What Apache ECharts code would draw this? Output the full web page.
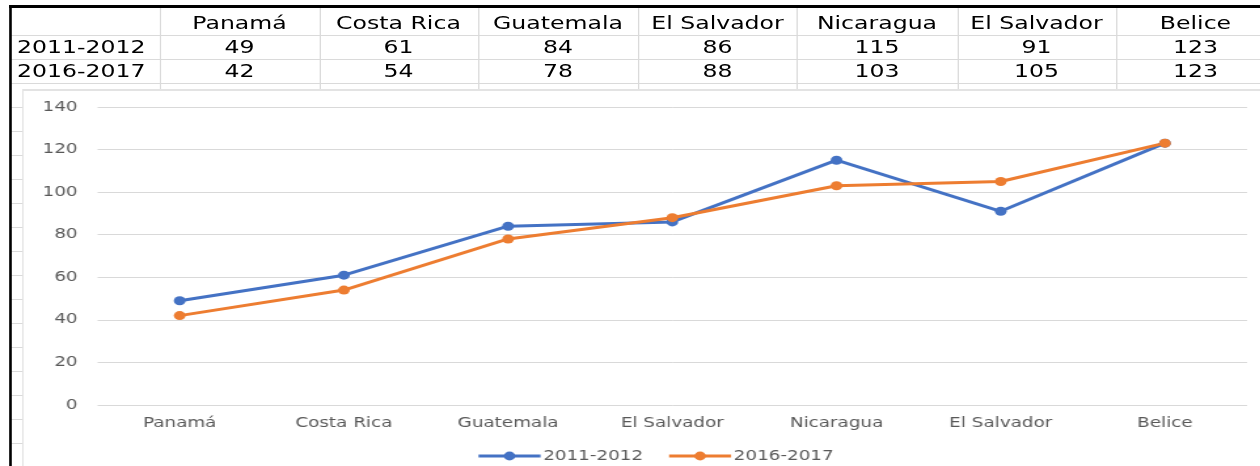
<!DOCTYPE html>
<html>
<head>
<meta charset="utf-8">
<script src="https://cdn.jsdelivr.net/npm/echarts@6/dist/echarts.min.js"></script>
<style>
  html, body { margin:0; padding:0; width:1260px; height:466px; overflow:hidden; background:#fff; }
  #wrap { position:absolute; left:0; top:0; width:960px; height:466px; transform-origin:0 0; font-family:"DejaVu Sans", sans-serif; }
  .abs { position:absolute; }
  .cell { position:absolute; font-size:18px; color:#000; white-space:nowrap; line-height:24px; height:24px; }
</style>
</head>
<body>
<div id="wrap"></div>
<script>
// ---- data ----
const categories = ["Panamá", "Costa Rica", "Guatemala", "El Salvador", "Nicaragua", "El Salvador", "Belice"];
const seriesNames = ["2011-2012", "2016-2017"];
const values2011 = [49, 61, 84, 86, 115, 91, 123];
const values2016 = [42, 54, 78, 88, 103, 105, 123];
const yTicks = { min: 0, max: 140, interval: 20 };

// ---- layout (page pixels, horizontally stretched like the reference) ----
const S = 1.31;
const u = x => x / S;
const wrap = document.getElementById('wrap');
wrap.style.transform = 'scaleX(' + S + ')';

function box(x, y, w, h, color) {
  const d = document.createElement('div');
  d.className = 'abs';
  d.style.left = u(x) + 'px'; d.style.top = y + 'px';
  d.style.width = u(w) + 'px'; d.style.height = h + 'px';
  d.style.background = color;
  wrap.appendChild(d);
  return d;
}
function text(str, x, yc, align) {
  const d = document.createElement('div');
  d.className = 'cell';
  d.textContent = str;
  d.style.top = (yc - 12) + 'px';
  if (align === 'left') { d.style.left = u(x) + 'px'; }
  else { d.style.left = (u(x) - 200) + 'px'; d.style.width = '400px'; d.style.textAlign = 'center'; }
  wrap.appendChild(d);
}

// sheet grid lines
const gridCol = '#dadada';
[35, 59, 83].forEach(y => box(11, y, 1260, 1, gridCol));
for (let y = 107; y < 466; y += 24) box(11, y, 20, 1, gridCol);
const colB = [11, 160, 319, 478, 638, 797, 957, 1116, 1275];
for (let i = 1; i < colB.length - 1; i++) box(colB[i], 8, 1.3, 82, gridCol);

// thick borders
box(9, 5, 1260, 3, '#000');
box(9, 5, 3, 470, '#000');

// table text
const rowY = [23, 47, 71];
categories.forEach((c, i) => text(c, (colB[i + 1] + colB[i + 2]) / 2, rowY[0]));
[values2011, values2016].forEach((vals, r) => {
  text(seriesNames[r], 17, rowY[r + 1], 'left');
  vals.forEach((v, i) => text(String(v), (colB[i + 1] + colB[i + 2]) / 2, rowY[r + 1]));
});

// chart frame
const frame = box(22, 89, 1300, 400, '#e3e3e3');
const inner = document.createElement('div');
inner.className = 'abs';
inner.style.left = u(1.5) + 'px'; inner.style.top = '1.5px';
inner.style.width = u(1298) + 'px'; inner.style.height = '398px';
inner.style.background = '#fff';
frame.appendChild(inner);
const chartDiv = document.createElement('div');
chartDiv.className = 'abs';
chartDiv.style.left = '0px'; chartDiv.style.top = '0px';
chartDiv.style.width = u(1290 - 24) + 'px'; chartDiv.style.height = '400px';
inner.appendChild(chartDiv);

const chart = echarts.init(chartDiv, null, { renderer: 'canvas' });
const labelColor = '#595959';
const font = '"DejaVu Sans", sans-serif';
chart.setOption({
  animation: false,
  textStyle: { fontFamily: font },
  grid: { left: u(98 - 24), right: u(1290 - 1248), top: 107 - 91, bottom: 400 - (405 - 91) },
  legend: {
    left: u(477 - 24), top: 358, padding: 0,
    itemWidth: u(62), itemHeight: 11, itemGap: u(24),
    lineStyle: { width: 3 },
    textStyle: { fontSize: 14, color: labelColor, fontFamily: font, padding: [0, 0, 0, -3] },
    data: seriesNames
  },
  xAxis: {
    type: 'category',
    data: categories,
    boundaryGap: true,
    axisLine: { show: false },
    axisTick: { show: false },
    axisLabel: { color: labelColor, fontSize: 14, margin: 11, fontFamily: font, interval: 0 }
  },
  yAxis: {
    type: 'value',
    min: yTicks.min, max: yTicks.max, interval: yTicks.interval,
    axisLine: { show: false },
    axisTick: { show: false },
    axisLabel: { color: labelColor, fontSize: 14, margin: u(20), fontFamily: font },
    splitLine: { lineStyle: { color: '#d9d9d9', width: 1 } }
  },
  series: [
    { name: seriesNames[0], type: 'line', data: values2011, symbol: 'circle', symbolSize: 9,
      lineStyle: { color: '#4472C4', width: 3 }, itemStyle: { color: '#4472C4' } },
    { name: seriesNames[1], type: 'line', data: values2016, symbol: 'circle', symbolSize: 9,
      lineStyle: { color: '#ED7D31', width: 3 }, itemStyle: { color: '#ED7D31' } }
  ]
});
</script>
</body>
</html>
